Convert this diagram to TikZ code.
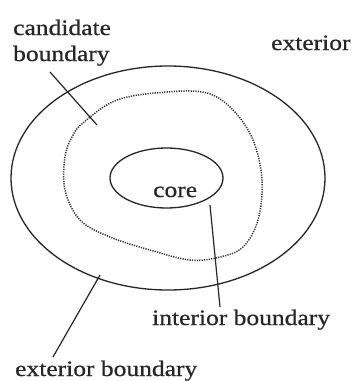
\documentclass[tikz,border=0pt]{standalone}
\usepackage{fontspec}
\setmainfont{Liberation Serif}[FakeStretch=1.16,FakeBold=0.6]
\begin{document}
\begin{tikzpicture}[x=1pt,y=-1pt,
  lbl/.style={inner sep=0pt,anchor=base west,text=black!85,font=\fontsize{22}{26}\selectfont},
  solidline/.style={line width=1.3pt,black!85},
  leader/.style={line width=1.2pt,black!85},
  dotline/.style={line width=1.5pt,black!80,dash pattern=on 1.2pt off 1.2pt}]
\useasboundingbox (0,0) rectangle (357,381);
\fill[white] (0,0) rectangle (357,381);
% outer ellipse
\draw[solidline] (168,178) ellipse [x radius=157, y radius=112];
% core ellipse
\draw[solidline] (166.5,178) ellipse [x radius=56.5, y radius=30];
% dotted candidate boundary
\draw[dotline] plot[smooth cycle, tension=0.6] coordinates {
  (83,123) (117,100) (167,92) (207,93) (233,110) (253,140) (262,180)
  (258,220) (243,247) (220,257) (190,260) (150,250) (110,237) (80,220)
  (65,190) (65,157) (72,137)};
% labels
\node[lbl] (cand) at (13,35) {candidate};
\node[lbl] (candb) at (13,61) {boundary};
\node[lbl] (ext) at (271,50) {exterior};
\node[lbl] (core) at (153,197) {core};
\node[lbl] (intb) at (152,325) {interior boundary};
\node[lbl] (extb) at (15,376) {exterior boundary};
% leader coordinates
\coordinate (c1) at (50,72);  \coordinate (c2) at (97,125);
\coordinate (i1) at (210,205); \coordinate (i2) at (220,307);
\coordinate (e1) at (100,275); \coordinate (e2) at (53,357);
\draw[leader] (c1) -- (c2);
\draw[leader] (i1) -- (i2);
\draw[leader] (e1) -- (e2);
\end{tikzpicture}
\end{document}
